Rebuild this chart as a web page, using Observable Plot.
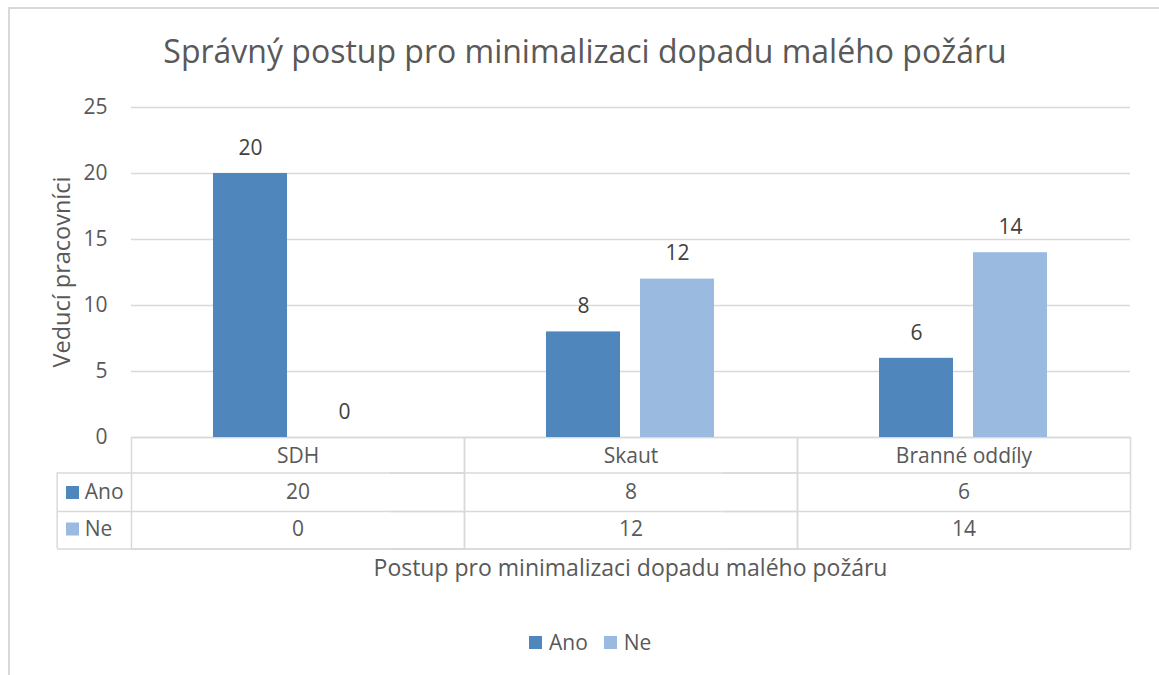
<!DOCTYPE html>
<html>
<head>
<meta charset="utf-8">
<script src="https://cdn.jsdelivr.net/npm/d3@7"></script>
<script src="https://cdn.jsdelivr.net/npm/@observablehq/plot@0.6"></script>
<style>
  body { margin: 0; background: #fff; font-family: "Open Sans", sans-serif; }
  #wrap { position: relative; width: 1159px; height: 675px; overflow: hidden; background: #fff; }
  #border { position: absolute; left: 8px; top: 7px; width: 1300px; height: 800px; border: 2px solid #d9d9d9; box-sizing: border-box; }
  #chart { position: absolute; left: 0; top: 0; }
  .lbl { position: absolute; white-space: nowrap; color: #595959; transform: translateX(-50%); }
  #title { left: 585px; top: 28.8px; font-size: 32px; line-height: 1.362; }
  #xlabel { left: 630.5px; top: 552.4px; font-size: 23px; line-height: 1.362; }
  #ylabel { left: 61px; top: 271.6px; font-size: 23.5px; line-height: 1.362; transform: translate(-50%, -50%) rotate(-90deg); }
  #legend { position: absolute; left: 529px; top: 630px; height: 24px; display: flex; align-items: center; color: #595959; font-size: 21px; }
  #legend .item { display: flex; align-items: center; margin-right: 16px; }
  #legend .sw { width: 13px; height: 13px; margin-right: 7px; }
</style>
</head>
<body>
<div id="wrap">
  <div id="border"></div>
  <div id="chart"></div>
  <div id="title" class="lbl"></div>
  <div id="xlabel" class="lbl"></div>
  <div id="ylabel" class="lbl"></div>
  <div id="legend"></div>
</div>
<script>
// ---- data ----
const categories = ["SDH", "Skaut", "Branné oddíly"];
const series = ["Ano", "Ne"];
const anoValues = [20, 8, 6];
const neValues = [0, 12, 14];
const yTicks = [0, 5, 10, 15, 20, 25];
const colors = ["#4f87bd", "#9abae0"];
const titleText = "Správný postup pro minimalizaci dopadu malého požáru";
const yLabel = "Veducí pracovníci";
const xLabel = "Postup pro minimalizaci dopadu malého požáru";

const rows = categories.flatMap((c, i) => [
  {category: c, series: "Ano", value: anoValues[i]},
  {category: c, series: "Ne", value: neValues[i]}
]);

// ---- layout ----
const W = 1159, H = 675, mL = 130, mR = 28, mT = 107, mB = 238;
const frameH = H - mT - mB;
const facetW = (W - mL - mR) / categories.length;
const gray = "#d9d9d9";
const rowA = 35.5, rowB = 74, rowC = 111.5, leftCol = 74;
const txt = "#595959";
const fs = 21;

const first = () => categories[0];
const cell = {frameAnchor: "bottom", lineAnchor: "middle", fill: txt, fontSize: fs};

const chart = Plot.plot({
  width: W, height: H,
  marginLeft: mL, marginRight: mR, marginTop: mT, marginBottom: mB,
  style: {fontFamily: "'Open Sans', sans-serif", fontSize: fs + "px", color: txt, background: "transparent", overflow: "visible"},
  fx: {domain: categories, padding: 0, axis: null},
  x: {domain: series, paddingInner: 0.21, paddingOuter: 0.862, axis: null},
  y: {domain: [0, 25]},
  color: {domain: series, range: colors},
  marks: [
    Plot.gridY(yTicks, {stroke: gray, strokeOpacity: 1, strokeWidth: 1.5}),
    Plot.axisY(yTicks, {tickSize: 0, tickPadding: 24, label: null, fontSize: fs, fill: txt}),
    // data table lines
    Plot.frame({stroke: gray, strokeWidth: 1.5, insetTop: frameH, insetBottom: -rowC}),
    Plot.ruleY([0], {dy: rowA, insetLeft: -leftCol, stroke: gray, strokeWidth: 1.5}),
    Plot.ruleY([0], {dy: rowB, insetLeft: -leftCol, stroke: gray, strokeWidth: 1.5}),
    Plot.ruleY([0], {dy: rowC, insetLeft: -leftCol, stroke: gray, strokeWidth: 1.5}),
    Plot.ruleX([categories[0]], {fx: d => d, x: null, dx: -leftCol - facetW / 2, insetTop: frameH + rowA, insetBottom: -rowC, stroke: gray, strokeWidth: 1.5}),
    // bars
    Plot.barY(rows, {fx: "category", x: "series", y: "value", fill: "series"}),
    Plot.text(rows, {fx: "category", x: "series", y: "value", text: d => String(d.value), dy: -25.5, fill: "#404040", fontSize: fs}),
    // table text
    Plot.text(categories, {fx: d => d, text: d => d, dy: 19, ...cell}),
    Plot.text(rows.filter(d => d.series === "Ano"), {fx: "category", text: d => String(d.value), dy: 55, ...cell}),
    Plot.text(rows.filter(d => d.series === "Ne"), {fx: "category", text: d => String(d.value), dy: 91.5, ...cell}),
    Plot.text([series[0]], {fx: first, text: d => d, ...cell, frameAnchor: "bottom-left", textAnchor: "start", dx: -46.7, dy: 55}),
    Plot.text([series[1]], {fx: first, text: d => d, ...cell, frameAnchor: "bottom-left", textAnchor: "start", dx: -46.7, dy: 91.5}),
    Plot.dot([series[0]], {fx: first, frameAnchor: "bottom-left", dx: -59, dy: 55, symbol: "square", r: 7.33, fill: d => d}),
    Plot.dot([series[1]], {fx: first, frameAnchor: "bottom-left", dx: -59, dy: 91.5, symbol: "square", r: 7.33, fill: d => d})
  ]
});
document.getElementById("chart").appendChild(chart);

document.getElementById("title").textContent = titleText;
document.getElementById("xlabel").textContent = xLabel;
document.getElementById("ylabel").textContent = yLabel;
const legend = document.getElementById("legend");
series.forEach((s, i) => {
  const item = document.createElement("div");
  item.className = "item";
  const sw = document.createElement("span");
  sw.className = "sw";
  sw.style.background = colors[i];
  const t = document.createElement("span");
  t.textContent = s;
  item.appendChild(sw); item.appendChild(t);
  legend.appendChild(item);
});
</script>
</body>
</html>
